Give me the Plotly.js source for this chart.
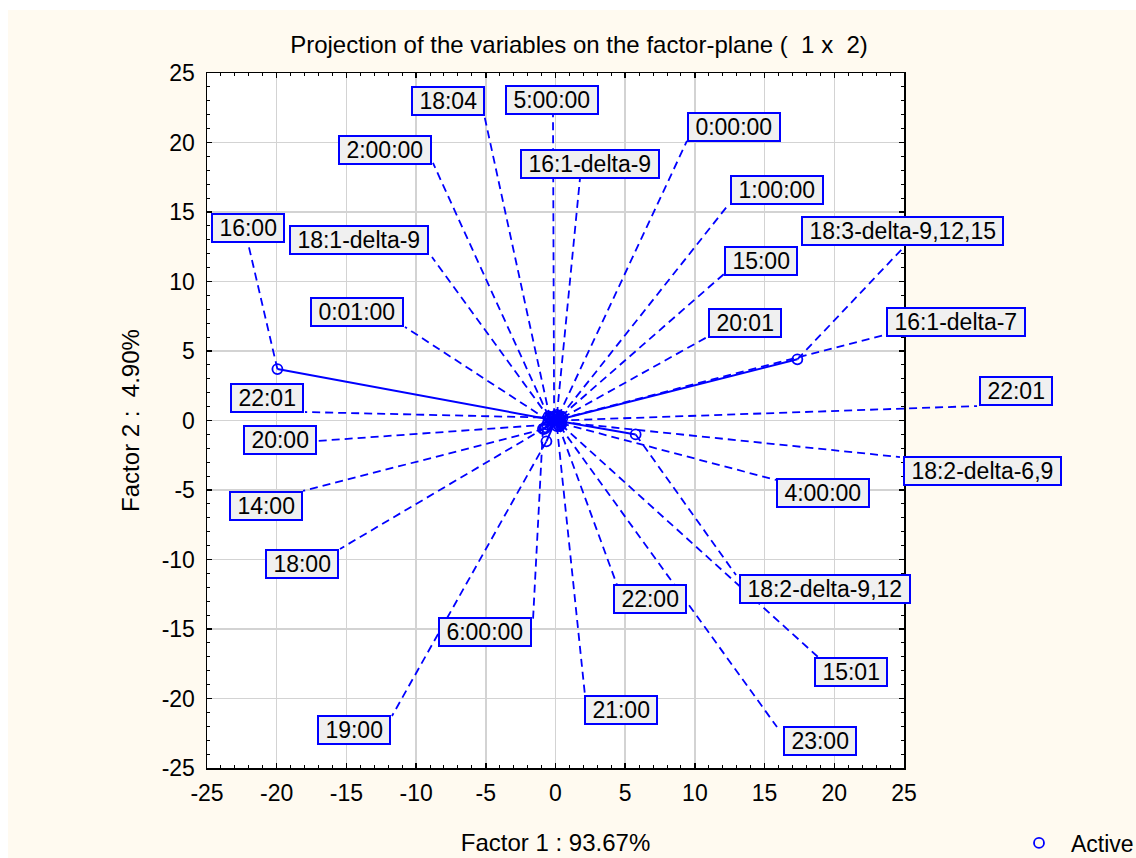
<!DOCTYPE html>
<html>
<head>
<meta charset="utf-8">
<script src="https://cdn.plot.ly/plotly-3.0.1.min.js"></script>
<style>
  html, body { margin: 0; padding: 0; background: #ffffff; overflow: hidden; }
  #chart {
    width: 1136px; height: 858px;
    background: linear-gradient(#fffaf0, #fffaf0) 8px 10px / 1128px 848px no-repeat, #ffffff;
  }
</style>
</head>
<body>
<div id="chart"></div>
<script>
// ---------------- data ----------------
const labels = ["18:04", "5:00:00", "0:00:00", "2:00:00", "16:1-delta-9", "1:00:00", "16:00",
  "18:1-delta-9", "0:01:00", "22:01", "20:00", "14:00", "18:00", "19:00", "6:00:00", "21:00",
  "22:00", "23:00", "15:01", "18:2-delta-9,12", "4:00:00", "18:2-delta-6,9", "22:01",
  "16:1-delta-7", "18:3-delta-9,12,15", "15:00", "20:01"];
const factor1 = [-0.4, -0.1, 0.2, -0.5, 0.1, 0.3, -19.95,
  -0.4, -0.5, -0.1, -0.6, -0.8, -0.7, -0.65, -0.9, 0.1,
  0.2, 0.3, 0.4, 5.75, 0.4, 0.3, 0.2,
  0.3, 17.35, 0.4, 0.5];
const factor2 = [0.2, 0.3, 0.3, 0.3, 0.4, 0.2, 3.7,
  0.1, 0.0, 0.2, -0.3, -0.6, -0.5, -1.5, -0.6, -0.4,
  -0.3, -0.4, -0.3, -1.0, -0.2, -0.1, 0.0,
  0.1, 4.4, 0.3, 0.2];
const tickVals = [-25, -20, -15, -10, -5, 0, 5, 10, 15, 20, 25];
const tickText = ["-25", "-20", "-15", "-10", "-5", "0", "5", "10", "15", "20", "25"];

// ---------------- label placement (layout, in factor units) ----------------
// [box centre x, box centre y, leader end x, leader end y]
const labelPlacement = [
  [-7.71, 23.02, -5.13, 22.05],
  [-0.25, 23.06, -0.18, 22.12],
  [12.80, 21.08, 9.43, 20.11],
  [-12.23, 19.46, -8.79, 18.53],
  [2.44, 18.42, 1.76, 17.45],
  [15.89, 16.55, 12.45, 15.58],
  [-22.09, 13.85, -22.06, 12.77],
  [-14.10, 12.99, -8.86, 11.76],
  [-14.24, 7.81, -10.80, 6.73],
  [-20.73, 1.62, -17.97, 0.61],
  [-19.76, -1.40, -17.04, -1.47],
  [-20.80, -6.12, -18.11, -5.07],
  [-18.22, -10.29, -15.46, -9.24],
  [-14.49, -22.30, -11.73, -21.26],
  [-5.06, -15.25, -1.61, -14.28],
  [4.70, -20.83, 2.12, -19.82],
  [6.78, -12.84, 4.41, -11.83],
  [18.94, -23.09, 15.89, -22.05],
  [21.23, -18.06, 18.83, -17.01],
  [19.30, -12.12, 12.95, -11.12],
  [19.19, -5.25, 15.82, -4.28],
  [30.60, -3.63, 24.71, -2.63],
  [33.03, 2.09, 30.24, 1.04],
  [28.73, 7.12, 23.57, 6.15],
  [24.86, 13.60, 24.93, 12.41],
  [14.74, 11.51, 12.09, 10.54],
  [13.59, 7.01, 10.87, 6.00]
];

// ---------------- geometry ----------------
const W = 1136, H = 858;
const mL = 207, mR = 0, mT = 73, mB = 90;
const plotRightPx = 904;
const domFrac = (plotRightPx - mL) / (W - mL - mR);
const x2Max = -25 + 50 / domFrac;

const BLUE = '#0000ff';
const FONT = 'Liberation Sans, Arial, sans-serif';

// vectors from origin
const vx = [], vy = [];
factor1.forEach((v, i) => { vx.push(0, v, null); vy.push(0, factor2[i], null); });

// leader lines from point to label
const lx = [], ly = [];
factor1.forEach((v, i) => {
  lx.push(v, labelPlacement[i][2], null);
  ly.push(factor2[i], labelPlacement[i][3], null);
});

const traces = [
  { x: vx, y: vy, mode: 'lines', line: { color: BLUE, width: 2 },
    hoverinfo: 'skip', showlegend: false, xaxis: 'x', yaxis: 'y' },
  { x: lx, y: ly, mode: 'lines', line: { color: BLUE, width: 1.8, dash: '8px,5px' },
    hoverinfo: 'skip', showlegend: false, xaxis: 'x2', yaxis: 'y2' },
  { x: factor1, y: factor2, text: labels, mode: 'markers', name: 'Active',
    marker: { symbol: 'circle-open', size: 10, color: BLUE, line: { width: 1.8, color: BLUE } },
    showlegend: true, xaxis: 'x', yaxis: 'y' }
];

const annotations = labels.map((t, i) => ({
  x: labelPlacement[i][0], y: labelPlacement[i][1], xref: 'x2', yref: 'y2',
  text: '\u00a0' + t + '\u00a0', showarrow: false,
  xanchor: 'center', yanchor: 'middle',
  bgcolor: '#f0f0f0', bordercolor: BLUE, borderwidth: 2, borderpad: 0,
  font: { family: FONT, size: 23, color: '#000' }
}));

const axisCommon = {
  range: [-25, 25], tickmode: 'array', tickvals: tickVals, ticktext: tickText,
  showgrid: true, gridcolor: '#d3d3d3', gridwidth: 1.5, zeroline: false,
  showline: true, linecolor: '#000', linewidth: 1.5, mirror: 'ticks',
  ticks: 'inside', ticklen: 5, tickwidth: 1.5, tickcolor: '#000',
  minor: { tickmode: 'linear', tick0: 0, dtick: 1, ticks: 'inside', ticklen: 3,
           tickwidth: 1, tickcolor: '#000', showgrid: false },
  tickfont: { family: FONT, size: 23, color: '#000' },
  fixedrange: true, automargin: false
};

const layout = {
  width: W, height: H,
  margin: { l: mL, r: mR, t: mT, b: mB, pad: 0, autoexpand: false },
  paper_bgcolor: 'rgba(0,0,0,0)', plot_bgcolor: 'rgba(0,0,0,0)',
  font: { family: FONT, size: 23, color: '#000' },
  title: { text: 'Projection of the variables on the factor-plane (\u00a0 1 x\u00a0 2)',
           xref: 'container', yref: 'container', x: 579 / W, y: 1 - 45 / H,
           xanchor: 'center', yanchor: 'middle',
           font: { family: FONT, size: 24, color: '#000' } },
  xaxis: Object.assign({}, axisCommon, {
    domain: [0, domFrac], anchor: 'y', ticklabelstandoff: 4,
    title: { text: 'Factor 1 : 93.67%', standoff: 29, font: { family: FONT, size: 24, color: '#000' } }
  }),
  yaxis: Object.assign({}, axisCommon, {
    domain: [0, 1], anchor: 'x', ticklabelstandoff: 6,
    title: { text: 'Factor 2 :\u00a0 4.90%', standoff: 15, font: { family: FONT, size: 24, color: '#000' } }
  }),
  xaxis2: { domain: [0, 1], range: [-25, x2Max], anchor: 'y2', visible: false, fixedrange: true },
  yaxis2: { domain: [0, 1], range: [-25, 25], anchor: 'x2', visible: false, fixedrange: true },
  shapes: [
    { type: 'rect', xref: 'x domain', yref: 'y domain', x0: 0, x1: 1, y0: 0, y1: 1,
      fillcolor: '#ffffff', line: { width: 0 }, layer: 'below' }
  ],
  annotations: annotations,
  showlegend: true,
  legend: { x: (1007 - mL) / (W - mL - mR), y: -(843 - (H - mB)) / (H - mT - mB),
            xanchor: 'left', yanchor: 'middle', bgcolor: 'rgba(0,0,0,0)', borderwidth: 0,
            itemwidth: 54, font: { family: FONT, size: 23, color: '#000' } },
  hovermode: false
};

Plotly.newPlot('chart', traces, layout, { displayModeBar: false, staticPlot: true });
</script>
</body>
</html>
